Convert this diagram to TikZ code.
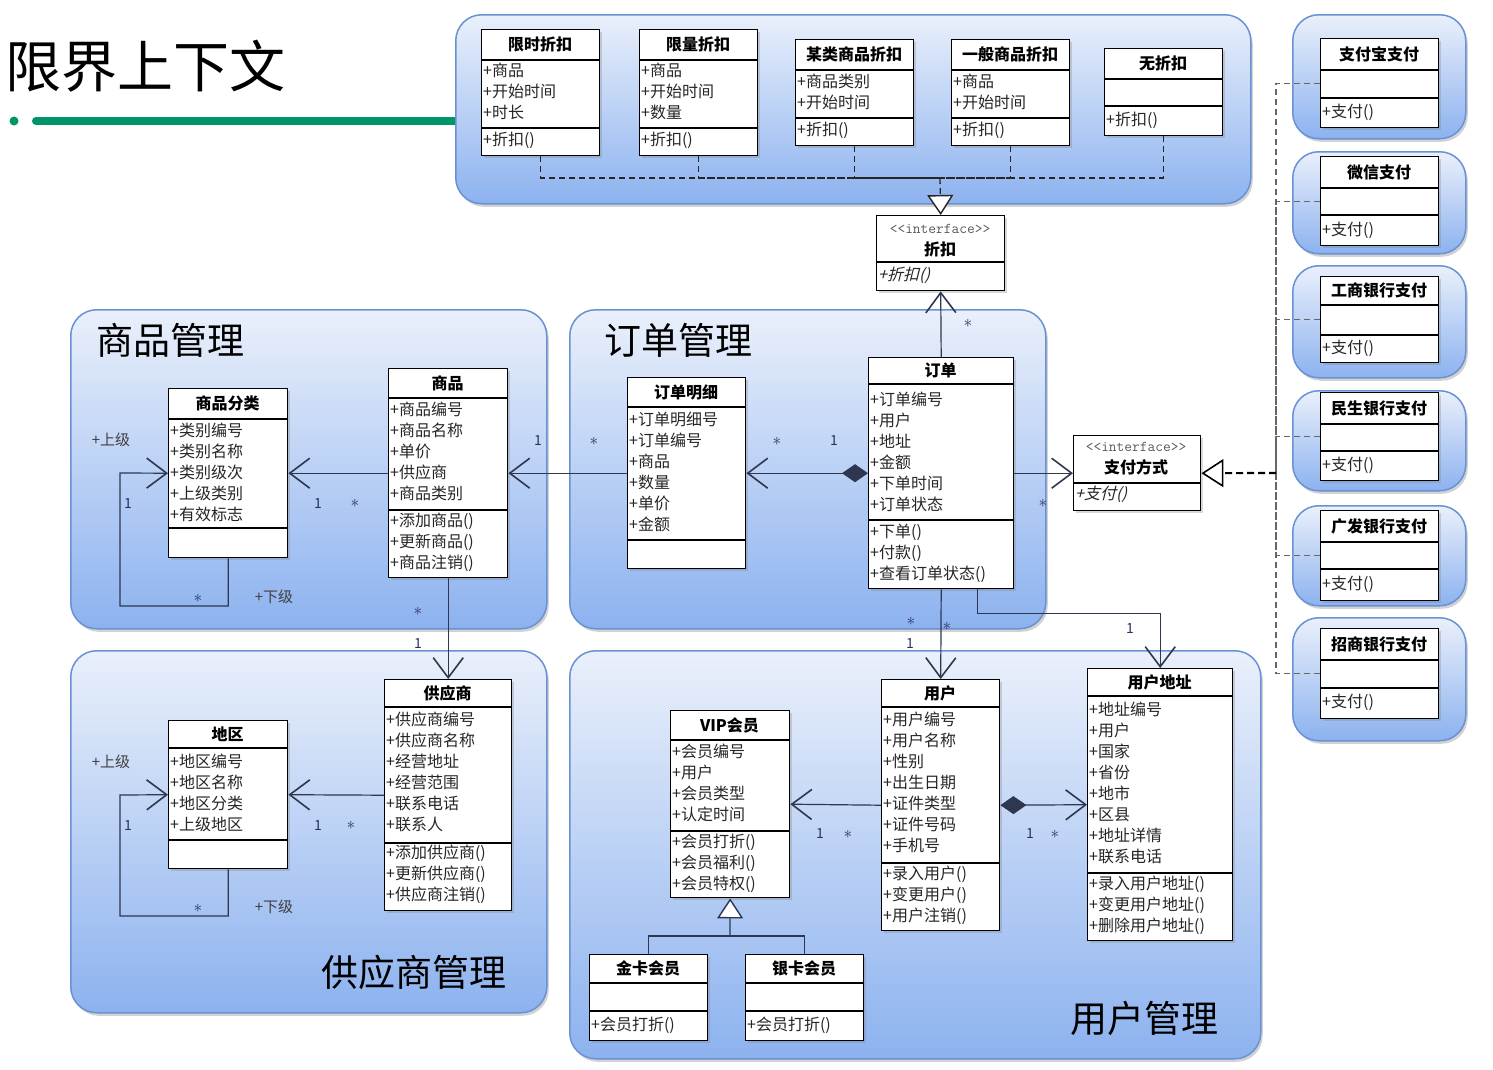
\documentclass[tikz,border=0pt]{standalone}
\usepackage{fontspec}
\setmainfont{Noto Sans CJK SC}
\newfontfamily\cjkit{Noto Sans CJK SC}[FakeSlant=0.25]
\usetikzlibrary{arrows.meta,shadows,calc}
\definecolor{rgtop}{RGB}{234,240,251}
\definecolor{rgbot}{RGB}{140,178,239}
\definecolor{rgborder}{RGB}{105,145,212}
\definecolor{lncol}{RGB}{45,55,80}
\definecolor{multcol}{RGB}{40,50,95}
\definecolor{grn}{RGB}{0,148,105}
\tikzset{
  region/.style={draw=rgborder, line width=1.5pt, rounded corners=26pt, top color=rgtop, bottom color=rgbot,
    drop shadow={shadow xshift=2pt, shadow yshift=-3pt, opacity=0.35}, inner sep=0pt},
  clsbox/.style={draw=black, line width=1.4pt, fill=white, inner sep=0pt,
    drop shadow={shadow xshift=2pt, shadow yshift=-2pt, opacity=0.3}},
  clsline/.style={line width=1.2pt},
  clstitle/.style={font=\bfseries\fontsize{16}{18}\selectfont, inner sep=0pt},
  clstext/.style={font=\fontsize{16}{18}\selectfont, inner sep=0pt, text height=12pt, text depth=1pt, text=black!85},
  stereo/.style={font=\ttfamily\fontsize{15}{16}\selectfont, text=black!65, inner sep=0pt},
  assoc/.style={draw=lncol, line width=1.2pt},
  barb/.tip={Straight Barb[length=20pt,width=30pt,line width=1.6pt]},
  dia/.tip={Diamond[length=26pt,width=18pt]},
  tri/.tip={Triangle[length=20pt,width=26pt,fill=white,line width=1.4pt]},
  mult/.style={font=\fontsize{14}{16}\selectfont, text=multcol, inner sep=0pt},
  rolel/.style={font=\fontsize{15}{16}\selectfont, text=black!75, inner sep=0pt},
  rtitle/.style={font=\fontsize{37}{40}\selectfont, inner sep=0pt, anchor=west},
  dsh/.style={draw=black!85, line width=1.3pt, dash pattern=on 6pt off 4pt},
  pdsh/.style={draw=black!60, line width=1.2pt, dash pattern=on 6pt off 4pt},
}
\newcommand\mstar{\fontsize{17}{17}\selectfont$\ast$}
\newcommand\region[5]{\node[region, anchor=north west, minimum width={(#4-#2)*1pt}, minimum height={(#5-#3)*1pt}] (#1) at (#2,#3) {};}
\newcommand\umlclass[8]{%
  \node[clsbox, anchor=north west, minimum width={(#4-#2)*1pt}, minimum height={(#7-#3)*1pt}] (#1) at (#2,#3) {};
  \draw[clsline] (#2,#5) -- (#4,#5) (#2,#6) -- (#4,#6);
  \node[clstitle] (#1-t) at ({(#2+#4)/2},{(#3+#5)/2}) {#8};}
\newcommand\umllines[4]{%
  \foreach \s [count=\i] in {#4} {\node[clstext, anchor=west] (#1-\i) at (#2,{#3+21*(\i-1)}) {\s};}}
\begin{document}
\begin{tikzpicture}[x=1pt,y=-1pt]
\useasboundingbox[fill=white] (0,0) rectangle (1493,1069);

% title
\node[font=\fontsize{56}{60}\selectfont, anchor=west, inner sep=0pt] (title) at (5,66) {限界上下文};
\fill[grn] (14,121) circle (4.5);
\draw[grn, line width=8pt, line cap=round] (36,121) -- (470,121);

% regions
\region{rgzk}{455}{14}{1250}{203}
\region{rgp1}{1292}{14}{1465}{138}
\region{rgp2}{1292}{151}{1465}{253}
\region{rgp3}{1292}{265}{1465}{377}
\region{rgp4}{1292}{390}{1465}{490}
\region{rgp5}{1292}{505}{1465}{605}
\region{rgp6}{1292}{617}{1465}{740}
\region{rgsp}{70}{309}{546}{628}
\region{rgdd}{569}{309}{1045}{628}
\region{rggys}{70}{650}{546}{1012}
\region{rgyh}{569}{650}{1260}{1058}

\node[rtitle] (tsp) at (96,340) {商品管理};
\node[rtitle] (tdd) at (604,340) {订单管理};
\node[rtitle] (tgys) at (321,972) {供应商管理};
\node[rtitle] (tyh) at (1070,1018) {用户管理};

% discount classes
\umlclass{xs}{481}{29}{599}{60}{128}{155}{限时折扣}
\umllines{xs-a}{483}{71}{+商品,+开始时间,+时长}
\umllines{xs-m}{483}{140}{+折扣()}
\umlclass{xl}{639}{29}{757}{60}{128}{155}{限量折扣}
\umllines{xl-a}{641}{71}{+商品,+开始时间,+数量}
\umllines{xl-m}{641}{140}{+折扣()}
\umlclass{ml}{795}{39}{913}{70}{118}{145}{某类商品折扣}
\umllines{ml-a}{797}{82}{+商品类别,+开始时间}
\umllines{ml-m}{797}{130}{+折扣()}
\umlclass{yb}{951}{39}{1069}{70}{118}{145}{一般商品折扣}
\umllines{yb-a}{953}{82}{+商品,+开始时间}
\umllines{yb-m}{953}{130}{+折扣()}
\umlclass{wz}{1104}{48}{1222}{79}{106}{135}{无折扣}
\umllines{wz-m}{1106}{120}{+折扣()}

% interface 折扣
\node[clsbox, anchor=north west, minimum width=128pt, minimum height=75pt] (zk) at (876,215) {};
\draw[clsline] (876,262) -- (1004,262);
\node[stereo] (zk-s) at (940,229) {<<interface>>};
\node[clstitle] (zk-t) at (940,249) {折扣};
\node[clstext, anchor=west, font=\cjkit\fontsize{16}{18}\selectfont] (zk-m) at (878,275) {+折扣()};

\coordinate (dbus) at (940,178);
\foreach \c in {xs,xl,ml,yb,wz} {\draw[dsh] (\c.south) |- (dbus);}
\draw[dsh, -{tri}] (dbus) -- (zk.north);

% payment classes
\umlclass{zfb}{1320}{38}{1438}{70}{98}{127}{支付宝支付}
\umllines{zfb-m}{1322}{112}{+支付()}
\umlclass{wx}{1320}{156}{1438}{188}{215}{245}{微信支付}
\umllines{wx-m}{1322}{230}{+支付()}
\umlclass{gh}{1320}{276}{1438}{305}{335}{362}{工商银行支付}
\umllines{gh-m}{1322}{348}{+支付()}
\umlclass{ms}{1320}{392}{1438}{424}{451}{480}{民生银行支付}
\umllines{ms-m}{1322}{465}{+支付()}
\umlclass{gf}{1320}{510}{1438}{542}{569}{600}{广发银行支付}
\umllines{gf-m}{1322}{584}{+支付()}
\umlclass{zs}{1320}{628}{1438}{660}{688}{718}{招商银行支付}
\umllines{zs-m}{1322}{702}{+支付()}

% interface 支付方式
\node[clsbox, anchor=north west, minimum width=127pt, minimum height=75pt] (zffs) at (1073,435) {};
\draw[clsline] (1073,483) -- (1200,483);
\node[stereo] (zffs-s) at (1136,447) {<<interface>>};
\node[clstitle] (zffs-t) at (1136,467) {支付方式};
\node[clstext, anchor=west, font=\cjkit\fontsize{16}{18}\selectfont] (zffs-m) at (1075,494) {+支付()};

\coordinate (pbus) at (1276,473);
\foreach \c in {zfb,wx,gh,ms,gf,zs} {\draw[pdsh] (\c.west) -| (pbus);}
\draw[draw=black, line width=2.2pt, dash pattern=on 7pt off 4pt, -{Triangle[length=22pt,width=28pt,fill=white,line width=1.6pt]}] (pbus) -- (zffs.east);

% 商品管理
\umlclass{spfl}{168}{388}{287}{419}{528}{557}{商品分类}
\umllines{spfl-a}{170}{431}{+类别编号,+类别名称,+类别级次,+上级类别,+有效标志}
\umlclass{sp}{388}{368}{507}{398}{510}{577}{商品}
\umllines{sp-a}{390}{410}{+商品编号,+商品名称,+单价,+供应商,+商品类别}
\umllines{sp-m}{390}{521}{+添加商品(),+更新商品(),+商品注销()}

% 订单管理
\umlclass{ddmx}{627}{377}{745}{407}{540}{568}{订单明细}
\umllines{ddmx-a}{629}{420}{+订单明细号,+订单编号,+商品,+数量,+单价,+金额}
\umlclass{dd}{868}{357}{1013}{384}{520}{588}{订单}
\umllines{dd-a}{870}{400}{+订单编号,+用户,+地址,+金额,+下单时间,+订单状态}
\umllines{dd-m}{870}{532}{+下单(),+付款(),+查看订单状态()}

% 供应商管理
\umlclass{dq}{168}{720}{287}{748}{840}{868}{地区}
\umllines{dq-a}{170}{762}{+地区编号,+地区名称,+地区分类,+上级地区}
\umlclass{gys}{384}{679}{511}{707}{843}{910}{供应商}
\umllines{gys-a}{386}{720}{+供应商编号,+供应商名称,+经营地址,+经营范围,+联系电话,+联系人}
\umllines{gys-m}{386}{853}{+添加供应商(),+更新供应商(),+供应商注销()}

% 用户管理
\umlclass{vip}{670}{710}{789}{740}{831}{897}{VIP会员}
\umllines{vip-a}{672}{752}{+会员编号,+用户,+会员类型,+认定时间}
\umllines{vip-m}{672}{842}{+会员打折(),+会员福利(),+会员特权()}
\umlclass{yh}{881}{679}{999}{707}{863}{930}{用户}
\umllines{yh-a}{883}{720}{+用户编号,+用户名称,+性别,+出生日期,+证件类型,+证件号码,+手机号}
\umllines{yh-m}{883}{874}{+录入用户(),+变更用户(),+用户注销()}
\umlclass{yhdz}{1087}{668}{1232}{696}{873}{940}{用户地址}
\umllines{yhdz-a}{1089}{710}{+地址编号,+用户,+国家,+省份,+地市,+区县,+地址详情,+联系电话}
\umllines{yhdz-m}{1089}{884}{+录入用户地址(),+变更用户地址(),+删除用户地址()}
\umlclass{jk}{589}{954}{707}{983}{1011}{1040}{金卡会员}
\umllines{jk-m}{591}{1025}{+会员打折()}
\umlclass{yk}{745}{954}{863}{983}{1011}{1040}{银卡会员}
\umllines{yk-m}{747}{1025}{+会员打折()}

% connectors
\draw[assoc, -{barb}] (spfl.south) -- (spfl.south |- 0,606) -| (120,473) -- (spfl.west);
\draw[assoc, -{barb}] (sp.west) -- (spfl.east);
\draw[assoc, -{barb}] (ddmx.west) -- (sp.east);
\draw[assoc, -{barb}] (sp.south) -- (gys.north);
\draw[assoc, {dia}-{barb}] (dd.west) -- (ddmx.east);
\draw[assoc, -{barb}] (dd.north) -- (zk.south);
\draw[assoc, -{barb}] (dd.east) -- (zffs.west);
\draw[assoc, -{barb}] (dd.south) -- (yh.north);
\draw[assoc, -{barb}] ($(dd.south)+(36,0)$) -- ++(0,24) -| (yhdz.north);
\draw[assoc, -{barb}] (dq.south) -- (dq.south |- 0,916) -| (120,795) -- (dq.west);
\draw[assoc, -{barb}] (gys.west) -- (dq.east);
\draw[assoc, -{barb}] (yh.west) -- (vip.east);
\draw[assoc, {dia}-{barb}] (yh.east) -- (yhdz.west);
\coordinate (gen) at (730,936);
\draw[assoc] (jk.north) |- (gen);
\draw[assoc] (yk.north) |- (gen);
\draw[assoc, -{tri}] (gen) -- (vip.south);

% labels
\node[rolel] (l1) at (111,440) {+上级};
\node[mult] (l2) at (128,503) {1};
\node[mult] (l3) at (198,598) {\mstar};
\node[rolel] (l4) at (274,597) {+下级};
\node[mult] (l5) at (318,503) {1};
\node[mult] (l6) at (355,503) {\mstar};
\node[mult] (l7) at (538,440) {1};
\node[mult] (l8) at (594,441) {\mstar};
\node[mult] (l9) at (418,611) {\mstar};
\node[mult] (l10) at (418,643) {1};
\node[mult] (l11) at (777,441) {\mstar};
\node[mult] (l12) at (834,440) {1};
\node[mult] (l13) at (968,323) {\mstar};
\node[mult] (l14) at (1043,503) {\mstar};
\node[mult] (l15) at (911,621) {\mstar};
\node[mult] (l16) at (947,626) {\mstar};
\node[mult] (l17) at (910,643) {1};
\node[mult] (l18) at (1130,628) {1};
\node[rolel] (l19) at (111,762) {+上级};
\node[mult] (l20) at (128,825) {1};
\node[mult] (l21) at (198,908) {\mstar};
\node[rolel] (l22) at (274,907) {+下级};
\node[mult] (l23) at (318,825) {1};
\node[mult] (l24) at (351,825) {\mstar};
\node[mult] (l25) at (820,833) {1};
\node[mult] (l26) at (848,834) {\mstar};
\node[mult] (l27) at (1030,833) {1};
\node[mult] (l28) at (1055,834) {\mstar};
\end{tikzpicture}
\end{document}
